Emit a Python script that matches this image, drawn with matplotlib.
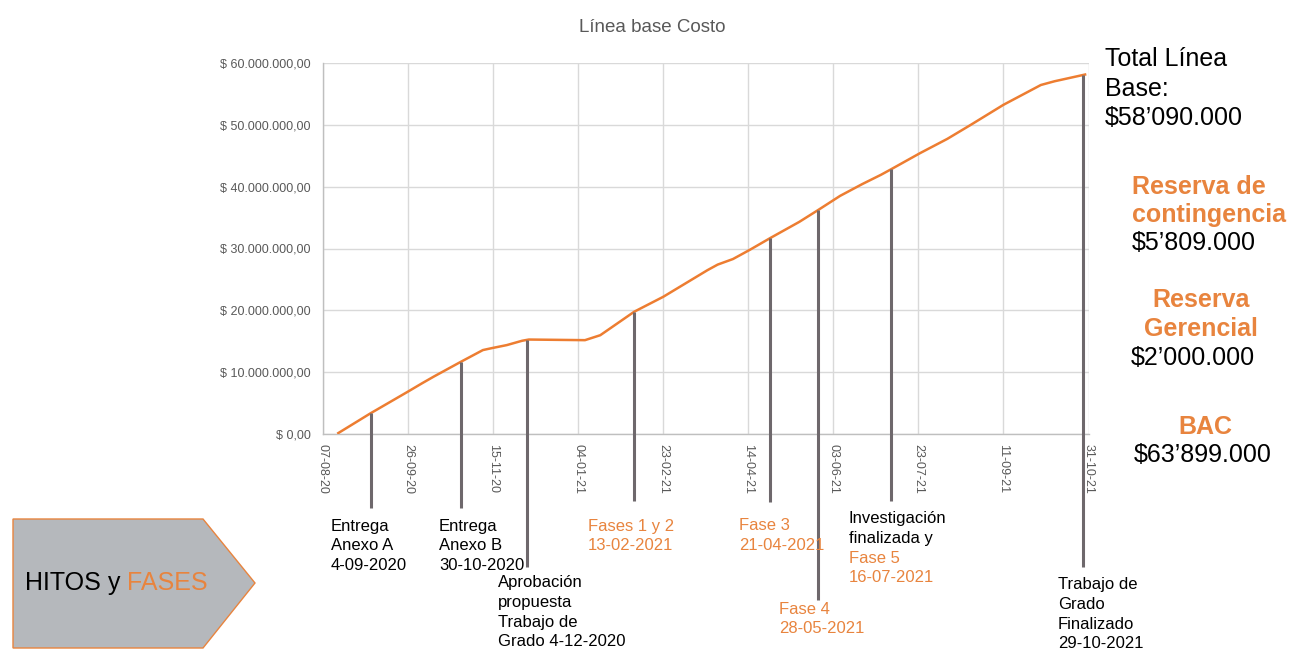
import numpy as np
import pandas as pd
import matplotlib
matplotlib.use("Agg")
import matplotlib.pyplot as plt
import matplotlib.dates as mdates
from matplotlib.patches import Polygon
from matplotlib.ticker import FuncFormatter

plt.rcParams['font.family'] = ['Liberation Sans', 'DejaVu Sans']

# cumulative planned cost (millions of pesos)
curve_dates = ["2020-08-16", "2020-09-04", "2020-09-26", "2020-10-04", "2020-10-11",
               "2020-10-27", "2020-11-09", "2020-11-14", "2020-11-23", "2020-12-02",
               "2020-12-06", "2021-01-08", "2021-01-17", "2021-02-06", "2021-02-23",
               "2021-03-21", "2021-03-27", "2021-04-05", "2021-04-15", "2021-04-27",
               "2021-05-14", "2021-05-25", "2021-06-07", "2021-06-20", "2021-07-01",
               "2021-07-07", "2021-07-24", "2021-08-09", "2021-08-23", "2021-09-11",
               "2021-10-03", "2021-10-11", "2021-10-29"]
curve_values = [0.2, 3.4, 6.9, 8.2, 9.3, 11.7, 13.6, 13.9, 14.4, 15.1,
                15.3, 15.2, 16.0, 19.8, 22.2, 26.5, 27.4, 28.3, 29.8, 31.7,
                34.3, 36.2, 38.5, 40.4, 41.9, 42.8, 45.4, 47.7, 50.0, 53.2,
                56.4, 57.0, 58.09]

tick_dates = ["2020-08-07", "2020-09-26", "2020-11-15", "2021-01-04", "2021-02-23",
              "2021-04-14", "2021-06-03", "2021-07-23", "2021-09-11", "2021-10-31"]
y_ticks = [0, 10, 20, 30, 40, 50, 60]

# milestone markers as placed on the picture
milestone_dates = ["2020-09-04", "2020-10-27", "2020-12-05", "2021-02-06",
                   "2021-04-27", "2021-05-25", "2021-07-07", "2021-10-28"]

ORANGE = '#ED7D31'
TXT_ORANGE = '#E8843E'
GRAY_TXT = '#595959'
LINE_GRAY = '#6E686C'

W, H = 1299, 656
fig = plt.figure(figsize=(W / 100, H / 100), dpi=100)
fig.patch.set_facecolor('white')


def fx(px):
    return px / W


def fy(py):
    return 1 - py / H


ax = fig.add_axes([fx(323), fy(434.3), (1088.5 - 323) / W, 371.6 / H])

cd = pd.to_datetime(curve_dates)
ax.plot(cd, curve_values, color=ORANGE, lw=1.8, zorder=3)

ticks = pd.to_datetime(tick_dates)
ax.set_xlim(ticks[0], ticks[-1])
ax.set_ylim(0, 60)
ax.set_xticks(ticks)
ax.xaxis.set_major_formatter(mdates.DateFormatter('%d-%m-%y'))
ax.set_yticks(y_ticks)


def peso(v, pos):
    s = f"{v * 1e6:,.2f}"
    s = s.replace(",", "X").replace(".", ",").replace("X", ".")
    return "$ " + s


ax.yaxis.set_major_formatter(FuncFormatter(peso))
ax.tick_params(axis='both', length=0, labelsize=9, labelcolor=GRAY_TXT)
ax.tick_params(axis='y', pad=9)
ax.tick_params(axis='x', pad=7)
for lab in ax.get_xticklabels():
    lab.set_rotation(-90)
    lab.set_ha('center')
    lab.set_va('top')

ax.grid(True, color='#D9D9D9', lw=1.0)
ax.set_axisbelow(True)
for side in ['top', 'right']:
    ax.spines[side].set_visible(False)
for side in ['left', 'bottom']:
    ax.spines[side].set_color('#BFBFBF')
    ax.spines[side].set_linewidth(1.0)

fig.text(fx(652), fy(28), "Línea base Costo", ha='center', va='center',
         fontsize=13.5, color=GRAY_TXT)

# milestone lines from the curve down to the labels
ms = pd.to_datetime(milestone_dates)
ms_num = mdates.date2num(ms)
ms_top = np.interp(ms_num, mdates.date2num(cd), curve_values)
ms_bottom_px = [508, 508, 567, 501, 502, 600, 501, 567]
inv = ax.transData.inverted()
for xn, top, bpx in zip(ms_num, ms_top, ms_bottom_px):
    ybot = inv.transform((0, H - bpx))[1]
    ax.plot([xn, xn], [top, ybot], color=LINE_GRAY, lw=2.2, clip_on=False,
            zorder=4, solid_capstyle='butt')


def put_lines(x, y0, lines, colors, size=12, step=19.6, ha='left', weight='normal'):
    for i, (t, c) in enumerate(zip(lines, colors)):
        fig.text(fx(x), fy(y0 + i * step), t, color=c, fontsize=size,
                 ha=ha, va='center', fontweight=weight)


K = 'black'
O = TXT_ORANGE
put_lines(331, 526, ["Entrega", "Anexo A", "4-09-2020"], [K, K, K])
put_lines(439, 526, ["Entrega", "Anexo B", "30-10-2020"], [K, K, K])
put_lines(498, 583, ["Aprobación", "propuesta", "Trabajo de", "Grado 4-12-2020"], [K, K, K, K])
put_lines(588, 526, ["Fases 1 y 2", "13-02-2021"], [O, O])
put_lines(739, 526, ["Fase 3", "21-04-2021"], [O, O])
put_lines(779, 609, ["Fase 4", "28-05-2021"], [O, O])
put_lines(849, 519, ["Investigación", "finalizada y", "Fase 5", "16-07-2021"], [K, K, O, O])
put_lines(1058, 585, ["Trabajo de", "Grado", "Finalizado", "29-10-2021"], [K, K, K, K])

# right side summary
put_lines(1105, 59, ["Total Línea", "Base:", "$58\u2019090.000"], [K, K, K], size=18, step=29.5)
put_lines(1132, 187, ["Reserva de", "contingencia"], [O, O], size=18, step=28, weight='bold')
put_lines(1132, 243, ["$5\u2019809.000"], [K], size=18)
put_lines(1201, 300, ["Reserva", "Gerencial"], [O, O], size=18, step=29, ha='center', weight='bold')
put_lines(1193, 358, ["$2\u2019000.000"], [K], size=18, ha='center')
put_lines(1205, 427, ["BAC"], [O], size=18, ha='center', weight='bold')
put_lines(1203, 455, ["$63\u2019899.000"], [K], size=18, ha='center')

# HITOS y FASES arrow box
box_px = [(13, 519), (203, 519), (255, 583), (203, 648), (13, 648)]
poly = Polygon([(fx(a), fy(b)) for a, b in box_px], closed=True,
               transform=fig.transFigure, facecolor='#B5B8BC',
               edgecolor=TXT_ORANGE, lw=1.0)
fig.patches.append(poly)
t1 = fig.text(fx(25), fy(583), "HITOS y ", fontsize=18, color=K, ha='left', va='center')
fig.canvas.draw()
bb = t1.get_window_extent()
fig.text(bb.x1 / W, fy(583), "FASES", fontsize=18, color=O, ha='left', va='center')

fig.savefig("out.png", dpi=100)
